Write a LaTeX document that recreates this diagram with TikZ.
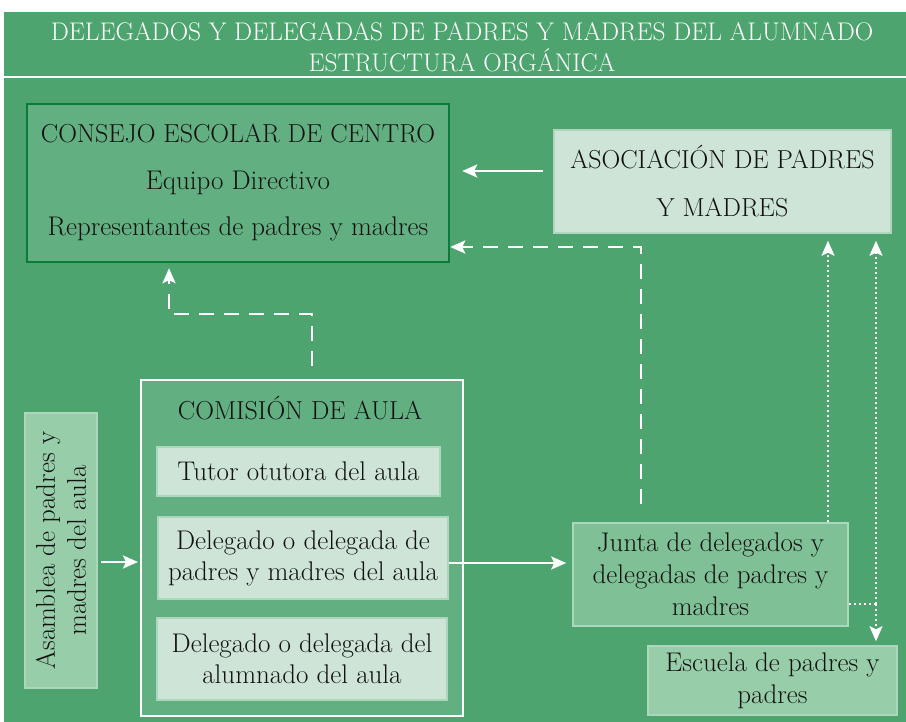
\documentclass[tikz,border=0pt]{standalone}
\usepackage{fontspec}
\usetikzlibrary{arrows.meta}

\newlength{\du}
\setlength{\du}{1pt}

\definecolor{fondo}{rgb}{0.302000, 0.643000, 0.431000}
\definecolor{cajamedia}{rgb}{0.384000, 0.690000, 0.510000}
\definecolor{bordeconsejo}{rgb}{0.047000, 0.478000, 0.220000}
\definecolor{cajaclara}{rgb}{0.804000, 0.894000, 0.839000}
\definecolor{cajajunta}{rgb}{0.498000, 0.753000, 0.588000}
\definecolor{cajapalida}{rgb}{0.596000, 0.804000, 0.667000}
\definecolor{bordeclaro}{rgb}{0.675000, 0.843000, 0.737000}
\definecolor{textocaja}{rgb}{0.070000, 0.070000, 0.070000}

\tikzset{
  caja/.style={rectangle, draw=bordeclaro, line width=1.5pt, inner sep=0pt,
    align=center, text=textocaja, font=\fontsize{27}{32}\selectfont},
  flecha/.style={draw=white, line width=2.5pt,
    -{Stealth[length=15pt,width=13pt,inset=3pt]}},
  flechadash/.style={flecha, dash pattern=on 15pt off 10pt},
  flechadot/.style={flecha, line width=2pt, dash pattern=on 2pt off 3pt},
}

\begin{document}
\begin{tikzpicture}
\pgftransformxscale{1.000000}
\pgftransformyscale{-1.000000}
\useasboundingbox (0\du,0\du) rectangle (906\du,722\du);
% fondo y cabecera
\fill[fondo] (4\du,12\du) rectangle (906\du,722\du);
\draw[white, line width=2pt] (4\du,77\du) -- (906\du,77\du);
\node[text=white, align=center, font=\fontsize{25.5}{31}\selectfont] (titulo) at (462\du,47\du)
  {DELEGADOS Y DELEGADAS DE PADRES Y MADRES DEL ALUMNADO\\ESTRUCTURA ORGÁNICA};
% consejo escolar
\node[caja, fill=cajamedia, draw=bordeconsejo, line width=2.5pt, minimum width=422pt,
  minimum height=158pt, font=\fontsize{27}{46.5}\selectfont] (consejo) at (238\du,183\du)
  {{\fontsize{26}{46.5}\selectfont CONSEJO ESCOLAR DE CENTRO}\\Equipo Directivo\\Representantes de padres y madres};
% asociacion
\node[caja, fill=cajaclara, minimum width=337pt, minimum height=103pt,
  font=\fontsize{26}{48}\selectfont] (asociacion) at (722.5\du,181.5\du)
  {ASOCIACIÓN DE PADRES\\Y MADRES};
% comision de aula
\node[caja, fill=cajamedia, draw=white, line width=2pt, minimum width=322pt,
  minimum height=336pt] (comision) at (302\du,548\du) {};
\node[text=textocaja, font=\fontsize{26}{32}\selectfont] (comtitulo) at (300\du,408\du)
  {COMISIÓN DE AULA};
\node[caja, fill=cajaclara, minimum width=283pt, minimum height=49pt] (tutor)
  at (298.5\du,471.5\du) {Tutor otutora del aula};
\node[caja, fill=cajaclara, minimum width=290pt, minimum height=82pt, font=\fontsize{27}{31}\selectfont]
  (delpadres) at (303\du,558\du) {Delegado o delegada de\\padres y madres del aula};
\node[caja, fill=cajaclara, minimum width=290pt, minimum height=82pt, font=\fontsize{27}{31}\selectfont]
  (delalumnos) at (302\du,659\du) {Delegado o delegada del\\alumnado del aula};
% asamblea
\node[caja, fill=cajapalida, rotate=90, minimum width=275pt, minimum height=72pt,
  font=\fontsize{27}{31}\selectfont] (asamblea) at (61\du,550.5\du)
  {Asamblea de padres y\\madres del aula};
% junta y escuela
\node[caja, fill=cajajunta, minimum width=275pt, minimum height=103pt] (junta)
  at (710.5\du,574.5\du) {Junta de delegados y\\delegadas de padres y\\madres};
\node[caja, fill=cajapalida, minimum width=249pt, minimum height=69pt] (escuela)
  at (772.5\du,680.5\du) {Escuela de padres y\\padres};
% flechas
\coordinate (flechaAso) at (544\du,171\du);
\draw[flecha, shorten <=10pt, shorten >=12pt] (asociacion.west |- flechaAso) -- (consejo.east |- flechaAso);
\coordinate (codoR) at (641\du,247\du);
\draw[flechadash, shorten <=18pt] (junta.north -| codoR) -- (codoR) -- (codoR -| consejo.east);
\coordinate (codoL1) at (312\du,314\du);
\coordinate (codoL2) at (169\du,314\du);
\draw[flechadash, shorten <=13pt, shorten >=5pt] (comision.north -| codoL1) -- (codoL1) -- (codoL2) -- (codoL2 |- consejo.south);
\coordinate (puntoA) at (828\du,604\du);
\coordinate (puntoB) at (876\du,604\du);
\draw[flechadot, shorten >=7pt] (junta.north -| puntoA) -- (asociacion.south -| puntoA);
\draw[flechadot, shorten >=7pt] (puntoB) -- (asociacion.south -| puntoB);
\draw[flechadot, shorten >=4pt] (puntoB) -- (escuela.north -| puntoB);
\draw[white, line width=2pt, dash pattern=on 2pt off 3pt] (junta.east |- puntoB) -- (puntoB);
\coordinate (flechaAsa) at (100\du,562\du);
\draw[flecha, shorten <=3pt, shorten >=2pt] (asamblea.south |- flechaAsa) -- (comision.west |- flechaAsa);
\coordinate (flechaDel) at (450\du,563\du);
\draw[flecha, shorten >=6pt] (delpadres.east |- flechaDel) -- (junta.west |- flechaDel);
\end{tikzpicture}
\end{document}
